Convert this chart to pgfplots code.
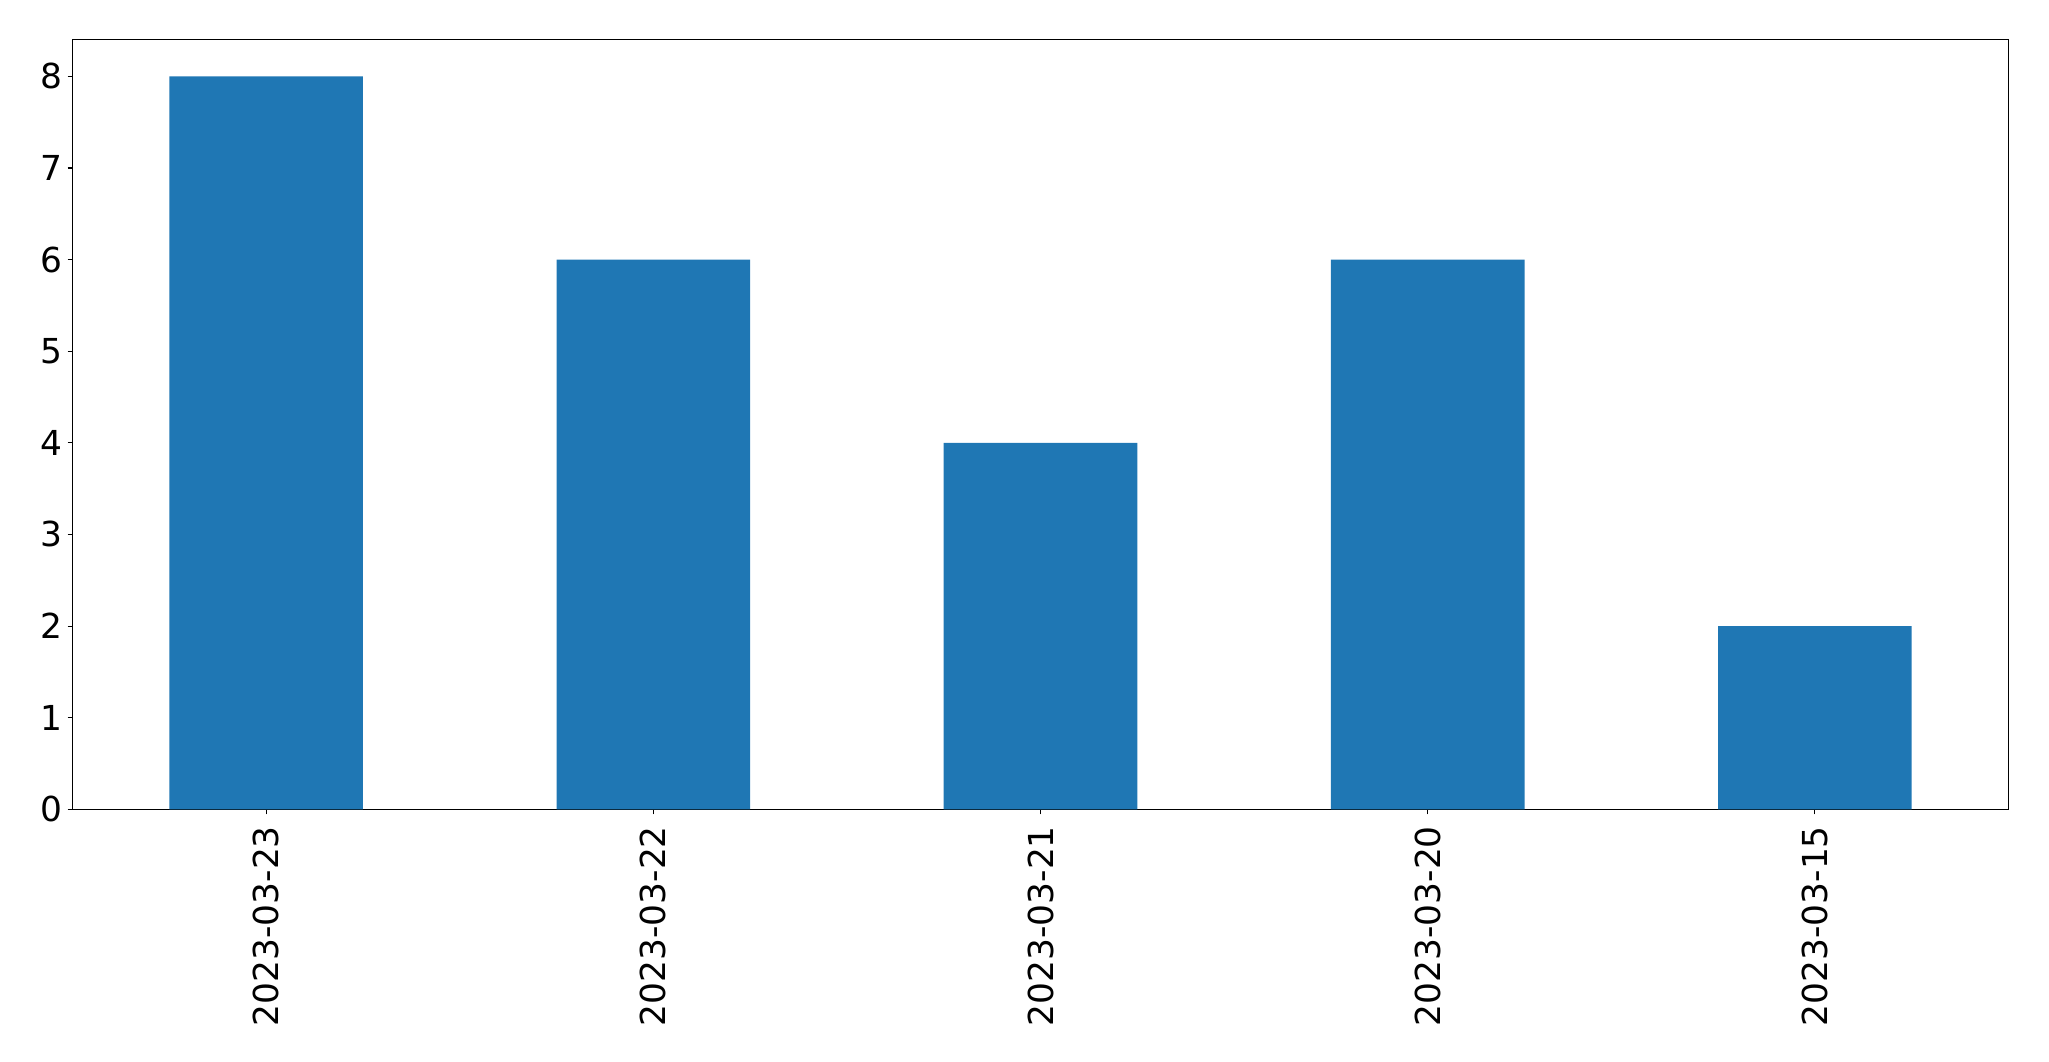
\documentclass[border=0pt]{standalone}
\usepackage{fontspec}
\setmainfont{DejaVu Sans}
\usepackage{pgfplots}
\pgfplotsset{compat=1.18}
\definecolor{mplblue}{HTML}{1F77B4}
\begin{document}
\begin{tikzpicture}
\useasboundingbox (-36.25pt,-125.85pt) rectangle (988.25pt,404.65pt);
\begin{axis}[
  at={(0pt,0pt)}, anchor=south west,
  scale only axis, width=968pt, height=384.8pt,
  xmin=-0.5, xmax=4.5, ymin=0, ymax=8.4,
  xtick={0,1,2,3,4},
  xticklabels={2023-03-23,2023-03-22,2023-03-21,2023-03-20,2023-03-15},
  ytick={0,1,2,3,4,5,6,7,8},
  tick align=outside, major tick length=2.5pt,
  tick style={black, line width=0.55pt},
  axis line style={black, line width=0.55pt},
  xtick pos=bottom, ytick pos=left,
  /pgf/number format/assume math mode=true,
  ticklabel style={font=\fontsize{17.2}{20.6}\selectfont},
  yticklabel style={anchor=east, inner sep=0pt, xshift=-2.3pt},
  xticklabel style={yshift=-5.7pt, rotate=90, anchor=east, inner sep=0pt},
  ybar, bar width=0.5,
]
\addplot[fill=mplblue, draw=none] coordinates {(0,8) (1,6) (2,4) (3,6) (4,2)};
\end{axis}
\end{tikzpicture}
\end{document}
